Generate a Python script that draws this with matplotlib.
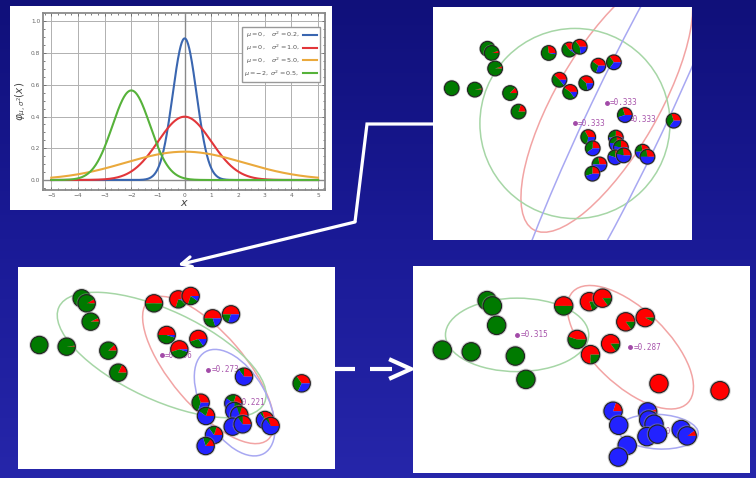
import matplotlib

matplotlib.use("Agg")
import matplotlib.pyplot as plt
import numpy as np
from matplotlib.colors import LinearSegmentedColormap
from matplotlib.patches import Circle, Ellipse, Rectangle, Wedge
from matplotlib.ticker import MultipleLocator

W, H = 756, 478

# normal densities shown in the top-left panel
mu = [0, 0, 0, -2]
sigma2 = [0.2, 1.0, 5.0, 0.5]
curve_colors = ["#3a66b0", "#e2363a", "#eaa93c", "#56b23a"]
curve_labels = [
    r"$\mu=0,\ \ \ \sigma^2=0.2,$",
    r"$\mu=0,\ \ \ \sigma^2=1.0,$",
    r"$\mu=0,\ \ \ \sigma^2=5.0,$",
    r"$\mu=-2,\ \sigma^2=0.5,$",
]

# the 28 points of the GMM example (same data in all three EM panels)
pts_x = [11.8, 20.0, 24.5, 26.0, 27.2, 32.5, 35.5, 46.2, 53.5, 57.2, 50.0, 53.8, 59.5, 63.8,
         69.3, 73.2, 90.5, 60.2, 61.8, 64.2, 61.7, 70.0, 70.3, 71.8, 69.8, 72.8, 79.5, 81.2]
pts_y = [34.5, 34.0, 48.5, 47.0, 41.5, 32.8, 26.2, 47.0, 48.2, 49.2, 37.5, 33.2, 36.3, 42.5,
         43.7, 25.0, 23.0, 17.2, 13.2, 7.5, 4.2, 17.0, 14.7, 13.5, 10.0, 10.7, 12.0, 10.2]

# responsibilities (red, green, blue) per point
resp_init = [
    (0.00, 1.00, 0.00), (0.03, 0.97, 0.00), (0.03, 0.97, 0.00), (0.05, 0.95, 0.00),
    (0.05, 0.95, 0.00), (0.13, 0.87, 0.00), (0.20, 0.80, 0.00), (0.27, 0.70, 0.03),
    (0.35, 0.55, 0.10), (0.35, 0.42, 0.23), (0.38, 0.48, 0.14), (0.40, 0.45, 0.15),
    (0.38, 0.40, 0.22), (0.40, 0.30, 0.30), (0.35, 0.30, 0.35), (0.30, 0.25, 0.45),
    (0.30, 0.35, 0.35), (0.33, 0.40, 0.27), (0.25, 0.35, 0.40), (0.28, 0.22, 0.50),
    (0.25, 0.30, 0.45), (0.25, 0.25, 0.50), (0.25, 0.22, 0.53), (0.25, 0.22, 0.53),
    (0.25, 0.20, 0.55), (0.27, 0.20, 0.53), (0.28, 0.22, 0.50), (0.28, 0.22, 0.50),
]
resp_step = [
    (0.00, 1.00, 0.00), (0.02, 0.98, 0.00), (0.05, 0.95, 0.00), (0.08, 0.92, 0.00),
    (0.07, 0.93, 0.00), (0.12, 0.88, 0.00), (0.18, 0.82, 0.00), (0.50, 0.50, 0.00),
    (0.70, 0.25, 0.05), (0.70, 0.20, 0.10), (0.50, 0.45, 0.05), (0.55, 0.40, 0.05),
    (0.55, 0.30, 0.15), (0.50, 0.30, 0.20), (0.50, 0.20, 0.30), (0.25, 0.10, 0.65),
    (0.35, 0.33, 0.32), (0.30, 0.40, 0.30), (0.20, 0.20, 0.60), (0.20, 0.15, 0.65),
    (0.15, 0.15, 0.70), (0.20, 0.20, 0.60), (0.15, 0.10, 0.75), (0.20, 0.10, 0.70),
    (0.10, 0.05, 0.85), (0.25, 0.10, 0.65), (0.30, 0.05, 0.65), (0.30, 0.05, 0.65),
]
resp_final = [
    (0.00, 1.00, 0.00), (0.00, 1.00, 0.00), (0.00, 1.00, 0.00), (0.00, 1.00, 0.00),
    (0.00, 1.00, 0.00), (0.00, 1.00, 0.00), (0.00, 1.00, 0.00), (0.50, 0.50, 0.00),
    (0.80, 0.20, 0.00), (0.85, 0.15, 0.00), (0.45, 0.55, 0.00), (0.75, 0.25, 0.00),
    (0.85, 0.15, 0.00), (0.85, 0.15, 0.00), (0.92, 0.08, 0.00), (1.00, 0.00, 0.00),
    (1.00, 0.00, 0.00), (0.20, 0.00, 0.80), (0.00, 0.00, 1.00), (0.00, 0.00, 1.00),
    (0.00, 0.00, 1.00), (0.05, 0.00, 0.95), (0.00, 0.00, 1.00), (0.00, 0.00, 1.00),
    (0.00, 0.00, 1.00), (0.00, 0.00, 1.00), (0.05, 0.00, 0.95), (0.10, 0.00, 0.90),
]

# component means, covariance ellipses and weights (red, green, blue)
init_mx, init_my = [66.8, 55.5, 73.6], [29.4, 22.0, 23.3]
init_w, init_h, init_ang = [104, 67.4, 212], [36.6, 67.4, 27], [60, 0, 64.5]
init_pi = [0.333, 0.333, 0.333]

step_mx, step_my = [62.5, 48.5, 70.4], [27.0, 31.5, 17.2]
step_w, step_h, step_ang = [55, 68, 35.2], [22, 26.8, 19.2], [-49.5, -25, -60]
step_pi = [0.273, 0.506, 0.221]

final_mx, final_my = [65.1, 33.0, 73.0], [35.3, 38.8, 11.4]
final_w, final_h, final_ang = [45.3, 40.6, 22.7], [21.2, 20.8, 9.8], [-44, 0, -3]
final_pi = [0.287, 0.315, 0.398]

pie_colors = ["#ff0000", "#007a00", "#2222ff"]
ell_colors = ["#f2a4a4", "#a6d6a6", "#a8a8f2"]
R = 2.6

fig = plt.figure(figsize=(W / 100, H / 100), dpi=100)


def px_axes(x0, y0, x1, y1):
    return fig.add_axes([x0 / W, 1 - y1 / H, (x1 - x0) / W, (y1 - y0) / H])


# slide background
bg = fig.add_axes([0, 0, 1, 1])
slide = LinearSegmentedColormap.from_list("slide", ["#10107a", "#1a1a96", "#2626aa"])
bg.imshow(np.linspace(0, 1, 256).reshape(-1, 1), cmap=slide, aspect="auto",
          extent=(0, W, H, 0))
bg.set_xlim(0, W)
bg.set_ylim(H, 0)
bg.axis("off")
bg.add_patch(Rectangle((10, 6), 322, 204, facecolor="white", edgecolor="none"))

# arrows between the panels
bg.plot([433, 367, 355], [124, 124, 222], color="white", lw=2.3,
        solid_joinstyle="miter", solid_capstyle="butt")
bg.annotate("", xy=(178, 265), xytext=(355, 222),
            arrowprops=dict(arrowstyle="->", color="white", lw=2.3,
                            mutation_scale=18, shrinkA=0, shrinkB=0))
bg.plot([335, 355], [369, 369], color="white", lw=3, solid_capstyle="butt")
bg.plot([370, 392], [369, 369], color="white", lw=3, solid_capstyle="butt")
bg.plot([391, 411, 391], [360, 369, 378], color="white", lw=3,
        solid_joinstyle="miter")

# top-left: normal densities
ax0 = px_axes(43, 13, 325, 190)
xs = np.linspace(-5, 5, 500)
for m, s2, c, lab in zip(mu, sigma2, curve_colors, curve_labels):
    dens = np.exp(-(xs - m) ** 2 / (2 * s2)) / np.sqrt(2 * np.pi * s2)
    ax0.plot(xs, dens, color=c, lw=1.5, label=lab, zorder=3)
ax0.axhline(0, color="#8a8a8a", lw=1.0, zorder=2)
ax0.axvline(0, color="#8a8a8a", lw=1.0, zorder=2)
ax0.set_xlim(-5.31, 5.26)
ax0.set_ylim(-0.063, 1.052)
ax0.set_xticks(range(-5, 6))
ax0.set_yticks(np.arange(0, 1.01, 0.2))
ax0.set_yticklabels(["0.0", "0.2", "0.4", "0.6", "0.8", "1.0"])
ax0.xaxis.set_minor_locator(MultipleLocator(0.25))
ax0.yaxis.set_minor_locator(MultipleLocator(0.05))
ax0.grid(True, which="major", color="#b0b0b0", lw=0.7)
ax0.tick_params(which="both", direction="in", top=True, right=True,
                labelsize=4.2, colors="#666666", length=2, width=0.6, pad=2)
ax0.tick_params(which="minor", length=1.2)
for sp in ax0.spines.values():
    sp.set_color("#8a8a8a")
    sp.set_linewidth(1.3)
ax0.set_xlabel("$x$", fontsize=8, labelpad=0, color="#444444")
ax0.set_ylabel(r"$\varphi_{\mu,\sigma^2}(x)$", fontsize=7.5, labelpad=2, color="#444444")
leg = ax0.legend(loc="upper right", bbox_to_anchor=(0.982, 0.921), borderaxespad=0,
                 fontsize=4.6, markerfirst=False, handlelength=2.2,
                 fancybox=False, framealpha=1, edgecolor="#999999", borderpad=0.45,
                 labelspacing=0.4, handletextpad=0.5)
for t in leg.get_texts():
    t.set_color("#555555")


def gmm_panel(box, xlim, ylim, resp, mx, my, ew, eh, ang, pis):
    ax = px_axes(*box)
    ax.set_xlim(*xlim)
    ax.set_ylim(*ylim)
    ax.set_xticks([])
    ax.set_yticks([])
    for sp in ax.spines.values():
        sp.set_visible(False)
    for x, y, w, h, a, c in zip(mx, my, ew, eh, ang, ell_colors):
        ax.add_patch(Ellipse((x, y), w, h, angle=a, fill=False, edgecolor=c, lw=1.1, zorder=1))
    for x, y, p in zip(mx, my, pis):
        ax.plot(x, y, "o", color="#a24aa8", ms=2.5, zorder=2)
        ax.text(x + 0.9, y, f"={p:.3f}", fontsize=5.5, family="DejaVu Sans Mono",
                color="#a855ac", va="center", zorder=2)
    for x, y, fr in zip(pts_x, pts_y, resp):
        ax.add_patch(Circle((x, y), R + 0.45, facecolor="#9a9a9a", edgecolor="none",
                            alpha=0.45, zorder=3))
        start = 0.0
        total = sum(fr)
        for f, c in zip(fr, pie_colors):
            if f > 0:
                ext = 360.0 * f / total
                ax.add_patch(Wedge((x, y), R, start, start + ext, facecolor=c,
                                   edgecolor="none", zorder=3))
                start += ext
        ax.add_patch(Circle((x, y), R, fill=False, edgecolor="#222222", lw=0.8, zorder=3))
    return ax


gmm_panel((433, 7, 692, 240), (5.17, 97.0), (-19.3, 63.3), resp_init,
          init_mx, init_my, init_w, init_h, init_ang, init_pi)
gmm_panel((18, 267, 335, 469), (5.4, 100.5), (-2.7, 57.9), resp_step,
          step_mx, step_my, step_w, step_h, step_ang, step_pi)
gmm_panel((413, 266, 750, 473), (3.5, 99.0), (-0.3, 58.3), resp_final,
          final_mx, final_my, final_w, final_h, final_ang, final_pi)

fig.savefig("out.png", dpi=100)
